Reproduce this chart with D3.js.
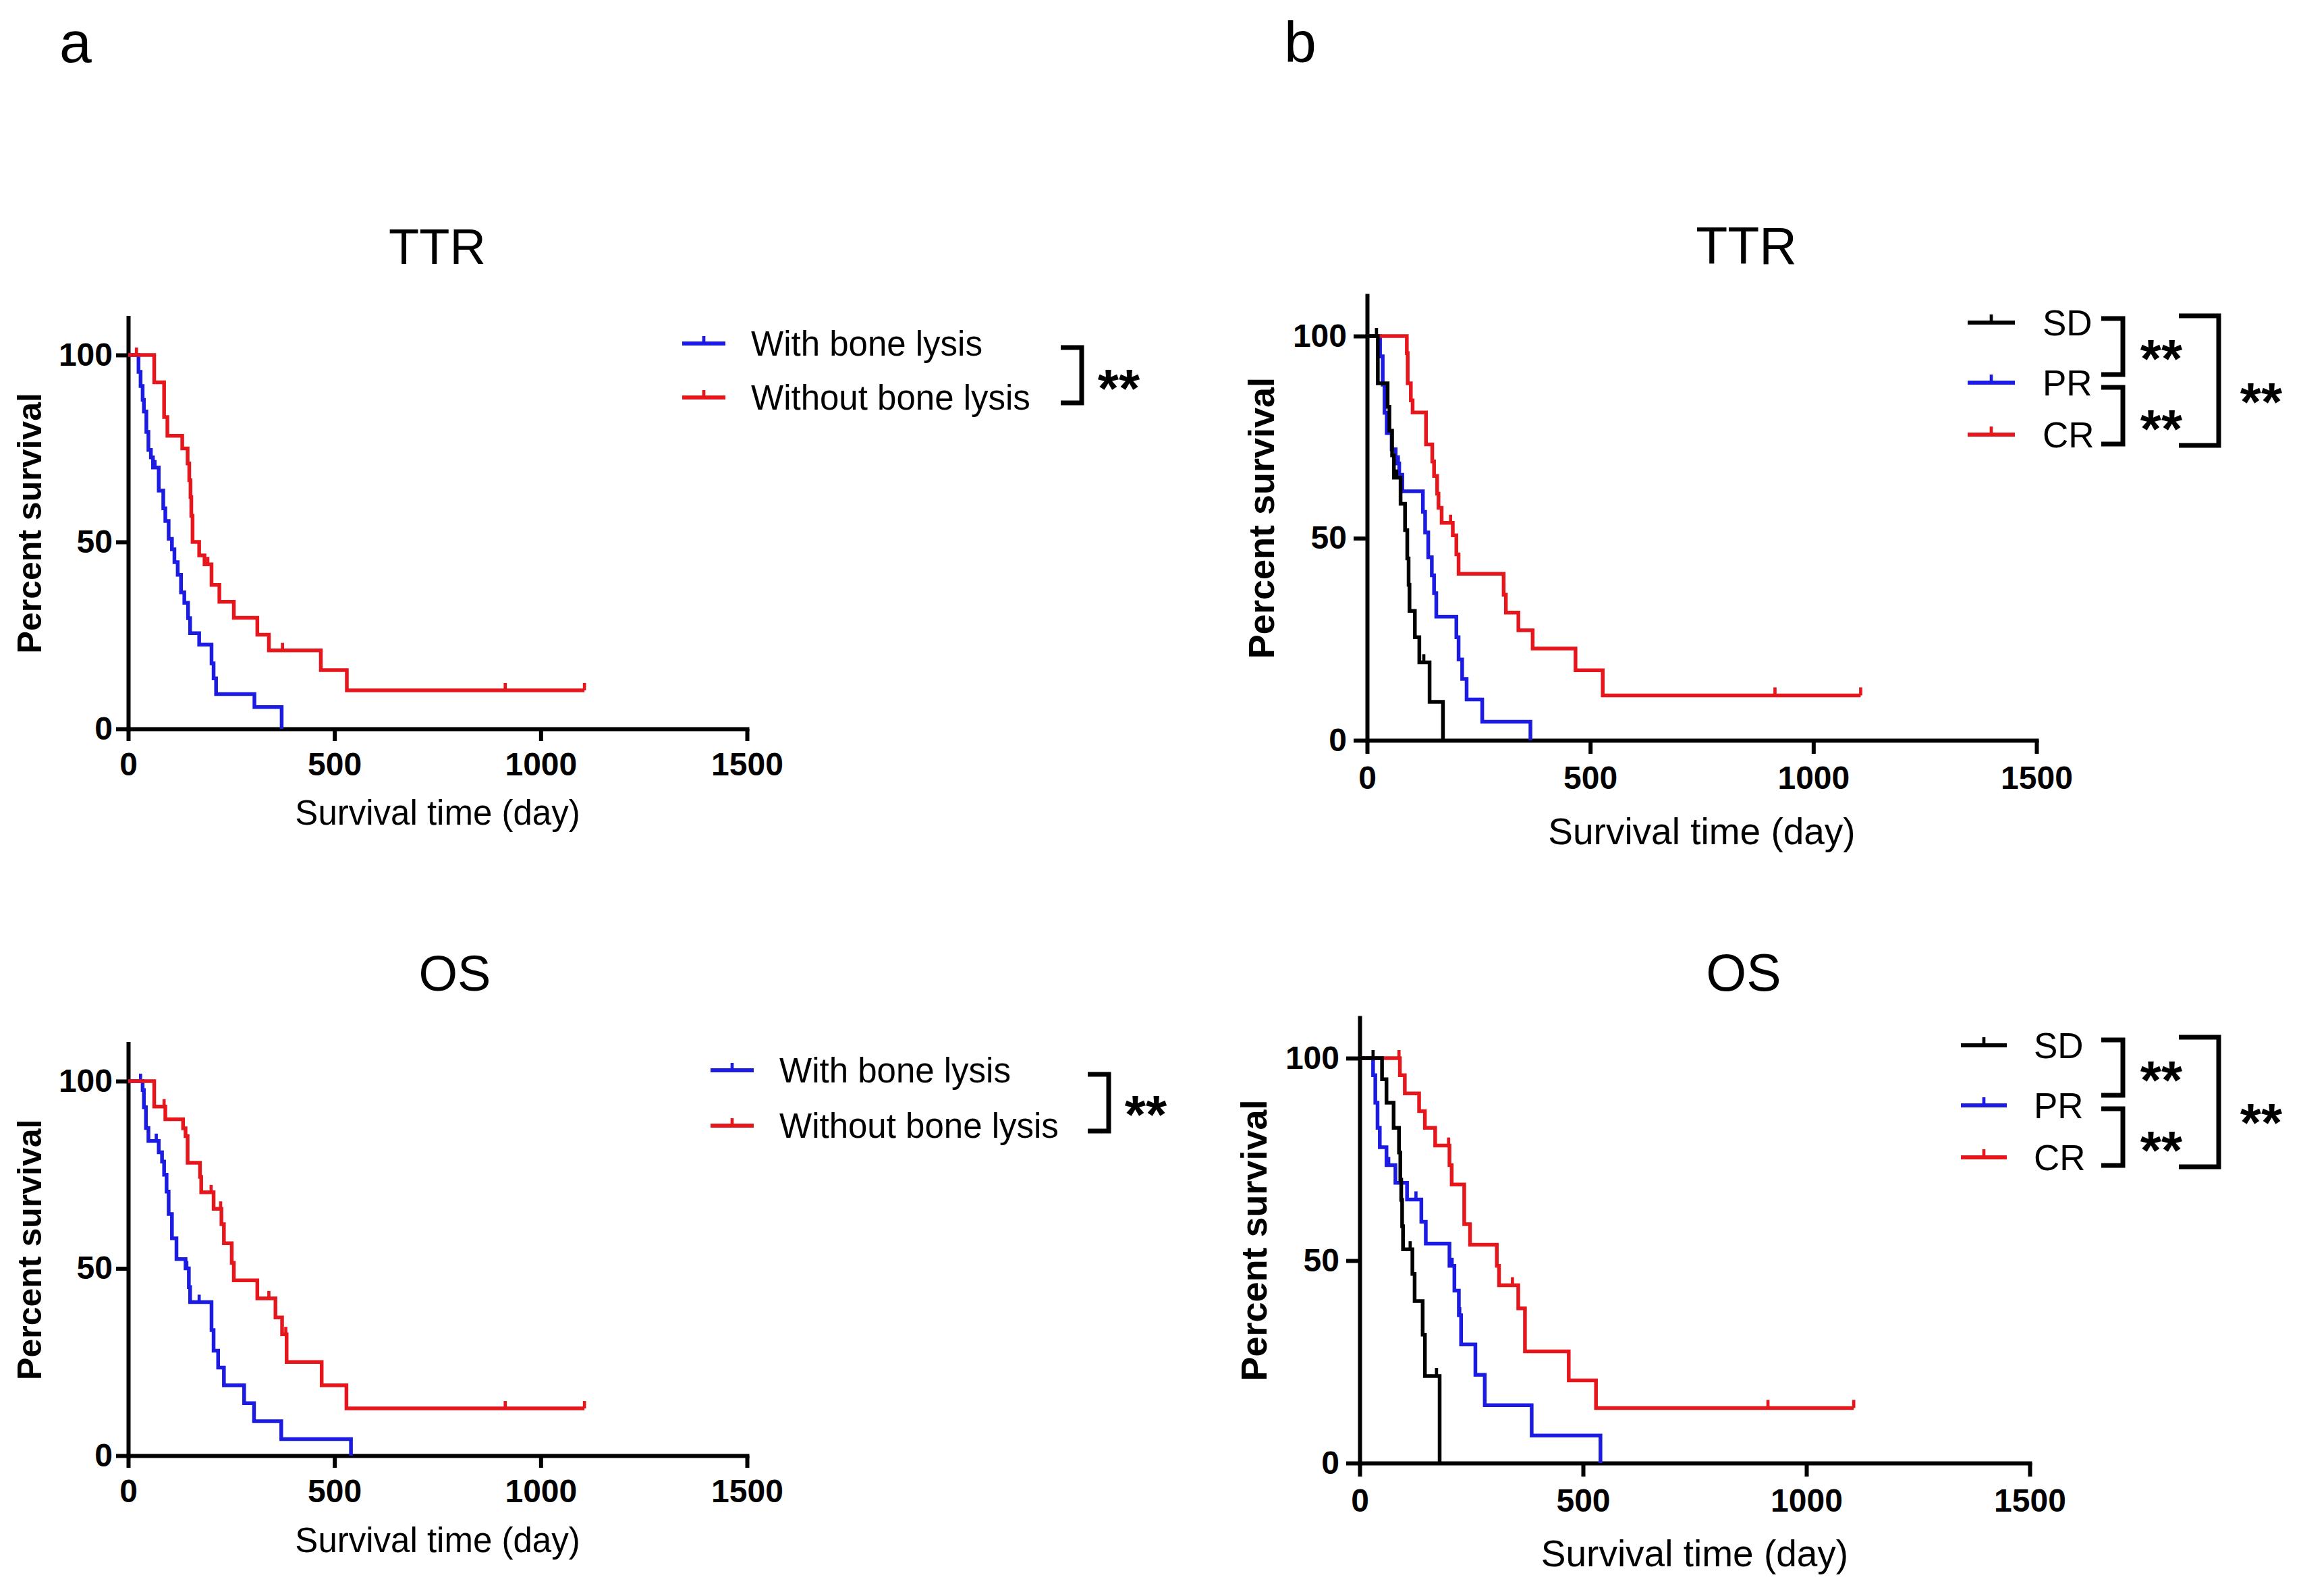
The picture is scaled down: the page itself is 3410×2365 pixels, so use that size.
<!DOCTYPE html>
<html><head><meta charset="utf-8">
<script src="https://cdn.jsdelivr.net/npm/d3@7"></script>
<style>body{margin:0;background:#fff}</style></head>
<body>
<script>
// ---------- DATA ----------
const xTicks = [0, 500, 1000, 1500];
const yTicks = [0, 50, 100];
const titles = ["TTR", "OS", "TTR", "OS"];
const panelLetters = ["a", "b"];
const namesA = ["With bone lysis", "Without bone lysis"];
const namesB = ["SD", "PR", "CR"];
const xLabel = "Survival time (day)";
const yLabel = "Percent survival";
const sigLabel = "**";

// Panel a, TTR: [day, percent survival]
const aTTR_with = [[0,100],[25,95.5],[30,91.7],[35,88],[38,84.9],[44,79.4],[49,74.6],[55,72.6],[60,69.9],[74,63.7],[85,59],[90,55.6],[98,50.8],[106,48],[112,44.6],[120,41.2],[128,36.5],[136,33.7],[145,29.6],[150,25.6],[172,22.5],[202,17.5],[207,13.5],[213,9.3],[306,5.8],[372,0]];
const aTTR_withCens = [[65,69.9]];
const aTTR_without = [[0,100],[63,92.7],[87,83.4],[95,78.4],[131,75],[144,71],[148,66.5],[151,62],[153,57],[156,50],[172,46.4],[185,44],[202,38.5],[221,34],[256,29.7],[313,25.2],[341,21],[467,15.7],[530,10.3],[1106,10.3]];
const aTTR_withoutCens = [[20,100],[193,44],[374,21],[914,10.3],[1106,10.3]];

// Panel a, OS
const aOS_with = [[0,100],[35,97.6],[38,93],[43,87.5],[49,84],[74,81],[82,78.5],[87,75],[93,70.5],[98,64.5],[106,58],[117,52.5],[139,50],[147,45],[150,41],[202,33.5],[207,28],[218,23.5],[232,18.8],[281,14],[305,9.2],[371,4.4],[540,0]];
const aOS_withCens = [[30,100],[68,84],[142,50],[172,41]];
const aOS_without = [[0,100],[63,93.2],[90,89.8],[133,87.4],[139,85.3],[144,78.2],[174,74.4],[177,70.3],[207,65.9],[226,61.8],[232,56.7],[251,51.5],[256,46.8],[313,42],[357,36.9],[373,32.4],[384,25],[469,18.8],[529,12.6],[1106,12.6]];
const aOS_withoutCens = [[87,93.2],[201,70.3],[224,65.9],[341,42],[382,32.4],[914,12.6],[1106,12.6]];

// Panel b, TTR
const bTTR_SD = [[0,100],[24,88.3],[46,82.5],[50,76.6],[56,70.5],[60,65],[75,58.5],[85,52],[90,45],[93,38.5],[95,32],[107,25.5],[117,19.3],[140,9.5],[170,0]];
const bTTR_SDCens = [[21,100],[66,65],[127,19.3]];
const bTTR_PR = [[0,100],[29,95],[35,88],[39,81],[44,76],[55,72],[64,68.5],[72,65.7],[79,61.6],[125,56.5],[130,51.4],[137,45.3],[145,40.8],[150,36.4],[155,30.6],[200,25.5],[205,20],[213,15.2],[223,10.1],[258,4.6],[366,0]];
const bTTR_PRCens = [[70,68.5]];
const bTTR_CR = [[0,100],[89,95.8],[91,88.3],[98,84.1],[102,81.1],[132,73.2],[146,69],[150,65.4],[157,61],[160,57.5],[167,53.8],[192,50.7],[200,46],[205,41.2],[306,36],[311,31.6],[339,27.2],[371,22.7],[467,17.3],[528,11.1],[1106,11.1]];
const bTTR_CRCens = [[187,53.8],[914,11.1],[1106,11.1]];

// Panel b, OS
const bOS_SD = [[0,100],[50,94.8],[60,89],[76,82.8],[88,76.7],[91,70],[93,65],[95,58.5],[97,52.8],[118,46.7],[123,40],[141,31.7],[146,21.5],[179,0]];
const bOS_SDCens = [[30,100],[113,52.8],[172,21.5]];
const bOS_PR = [[0,100],[30,95.8],[35,89],[40,82.8],[45,78],[60,73.6],[80,69.2],[106,65.1],[138,59.6],[148,54.2],[201,48.7],[212,42.6],[222,36.5],[227,29.3],[259,21.8],[280,14.3],[385,6.8],[539,0]];
const bOS_PRCens = [[65,73.6],[126,65.1],[207,48.7],[224,36.5]];
const bOS_CR = [[0,100],[90,95.8],[101,91.3],[133,86.9],[146,82.8],[169,78.4],[201,73.6],[206,68.8],[234,59],[247,53.9],[307,48.7],[312,43.9],[355,38.2],[370,27.6],[468,20.4],[529,13.6],[1106,13.6]];
const bOS_CRCens = [[88,100],[199,78.4],[342,43.9],[914,13.6],[1106,13.6]];

// ---------- DRAWING ----------
const W = 3410, H = 2365;
const FONT = "'Liberation Sans', Arial, Helvetica, sans-serif";
const BLUE = "#1b1be2", RED = "#e5161c", BLACK = "#000000";

const svg = d3.select("body").append("svg")
  .attr("width", W).attr("height", H).attr("viewBox", `0 0 ${W} ${H}`);
svg.append("rect").attr("width", W).attr("height", H).attr("fill", "#fff");

function panel(c, series) {
  const x = d3.scaleLinear([0, 1500], [c.x0, c.x1]);
  const span = c.y0 - c.y100;
  const y = d3.scaleLinear([0, 110], [c.y0, c.y0 - 1.1 * span]);
  const g = svg.append("g");

  const ax = g.append("g").attr("transform", `translate(0,${c.y0})`)
    .call(d3.axisBottom(x).tickValues(xTicks).tickFormat(d3.format("d"))
      .tickSize(c.tick).tickSizeOuter(0).tickPadding(c.xpad));
  const ay = g.append("g").attr("transform", `translate(${c.x0},0)`)
    .call(d3.axisLeft(y).tickValues(yTicks).tickFormat(d3.format("d"))
      .tickSize(c.tick).tickSizeOuter(0).tickPadding(c.ypad));
  [ax, ay].forEach(a => {
    a.select(".domain").attr("stroke", "#000").attr("stroke-width", c.axw).attr("stroke-linecap", "square");
    a.selectAll(".tick line").attr("stroke", "#000").attr("stroke-width", c.axw);
    a.selectAll("text").attr("font-family", FONT).attr("font-weight", "bold")
      .attr("font-size", c.tf).attr("fill", "#000");
  });

  const line = d3.line().x(d => x(d[0])).y(d => y(d[1])).curve(d3.curveStepAfter);
  series.forEach(s => {
    g.append("path").datum(s.data).attr("d", line).attr("fill", "none")
      .attr("stroke", s.color).attr("stroke-width", c.lw).attr("stroke-linejoin", "miter");
    g.append("g").selectAll("line").data(s.cens).join("line")
      .attr("x1", d => x(d[0])).attr("x2", d => x(d[0]))
      .attr("y1", d => y(d[1])).attr("y2", d => y(d[1]) - c.ct)
      .attr("stroke", s.color).attr("stroke-width", c.lw * 0.85);
  });

  // title
  g.append("text").attr("x", c.titleX).attr("y", c.titleY).attr("text-anchor", "middle")
    .attr("font-family", FONT).attr("font-size", c.titleF).text(c.title);
  // axis labels
  g.append("text").attr("x", (c.x0 + c.x1) / 2).attr("y", c.xlabY).attr("text-anchor", "middle")
    .attr("font-family", FONT).attr("font-size", c.xlabF).text(xLabel);
  const ymid = (y(0) + y(110)) / 2;
  g.append("text").attr("transform", `translate(${c.ylabX},${ymid}) rotate(-90)`)
    .attr("text-anchor", "middle").attr("font-family", FONT).attr("font-weight", "bold")
    .attr("font-size", c.ylabF).text(yLabel);

  // legend (in legend order)
  series.forEach(s => {
    const ly = c.ly[s.order];
    g.append("line").attr("x1", c.lx1).attr("x2", c.lx2).attr("y1", ly).attr("y2", ly)
      .attr("stroke", s.color).attr("stroke-width", c.lw * 1.1);
    const mx = (c.lx1 + c.lx2) / 2;
    g.append("line").attr("x1", mx).attr("x2", mx).attr("y1", ly).attr("y2", ly - c.ct)
      .attr("stroke", s.color).attr("stroke-width", c.lw * 0.85);
    g.append("text").attr("x", c.tx).attr("y", ly + c.lf * 0.36).attr("font-family", FONT)
      .attr("font-size", c.lf).text(s.name);
  });

  // significance brackets
  c.brackets.forEach(b => {
    g.append("path").attr("d", `M${b.x1},${b.yt}H${b.x2}V${b.yb}H${b.x1}`)
      .attr("fill", "none").attr("stroke", "#000").attr("stroke-width", 7);
    g.append("text").attr("x", b.sx).attr("y", b.sy + c.sf * 0.58).attr("text-anchor", "middle")
      .attr("font-family", FONT).attr("font-weight", "bold").attr("font-size", c.sf).text(sigLabel);
  });
}

const baseA = {x0:190, x1:1107, tick:18, xpad:17, ypad:5, tf:48, axw:6, lw:5.5, ct:11,
  titleF:74, xlabF:51, ylabF:50, ylabX:61, lf:51, sf:80};
const baseB = {tick:20, xpad:18, ypad:10, tf:48, axw:6, lw:5.5, ct:12,
  titleF:77, xlabF:55, ylabF:54, lf:53, sf:80};

// panel letters
svg.append("text").attr("x", 88).attr("y", 92).attr("font-family", FONT).attr("font-size", 86).text(panelLetters[0]);
svg.append("text").attr("x", 1903).attr("y", 92).attr("font-family", FONT).attr("font-size", 86).text(panelLetters[1]);

panel(Object.assign({}, baseA, {
  y0:1080, y100:526, title:titles[0], titleX:648, titleY:391, xlabY:1222,
  lx1:1011, lx2:1075, ly:[509,589], tx:1113,
  brackets:[{x1:1572,x2:1603,yt:515,yb:597,sx:1658,sy:557}]
}), [
  {data:aTTR_with, cens:aTTR_withCens, color:BLUE, name:namesA[0], order:0},
  {data:aTTR_without, cens:aTTR_withoutCens, color:RED, name:namesA[1], order:1}
]);

panel(Object.assign({}, baseA, {
  y0:2157, y100:1602, title:titles[1], titleX:674, titleY:1468, xlabY:2300,
  lx1:1053, lx2:1117, ly:[1586,1668], tx:1155,
  brackets:[{x1:1612,x2:1643,yt:1592,yb:1676,sx:1698,sy:1633}]
}), [
  {data:aOS_with, cens:aOS_withCens, color:BLUE, name:namesA[0], order:0},
  {data:aOS_without, cens:aOS_withoutCens, color:RED, name:namesA[1], order:1}
]);

panel(Object.assign({}, baseB, {
  x0:2026, x1:3018, y0:1097, y100:498, title:titles[2], titleX:2588, titleY:391,
  xlabY:1251, ylabX:1888,
  lx1:2916, lx2:2986, ly:[478,567,644], tx:3027,
  brackets:[{x1:3114,x2:3146,yt:472,yb:555,sx:3203,sy:513},
            {x1:3114,x2:3146,yt:574,yb:658,sx:3203,sy:617},
            {x1:3229,x2:3288,yt:468,yb:660,sx:3351,sy:577}]
}), [
  {data:bTTR_PR, cens:bTTR_PRCens, color:BLUE, name:namesB[1], order:1},
  {data:bTTR_CR, cens:bTTR_CRCens, color:RED, name:namesB[2], order:2},
  {data:bTTR_SD, cens:bTTR_SDCens, color:BLACK, name:namesB[0], order:0}
]);

panel(Object.assign({}, baseB, {
  x0:2015, x1:3008, y0:2168, y100:1568, title:titles[3], titleX:2584, titleY:1468,
  xlabY:2321, ylabX:1877,
  lx1:2906, lx2:2974, ly:[1549,1638,1715], tx:3014,
  brackets:[{x1:3114,x2:3146,yt:1541,yb:1623,sx:3203,sy:1582},
            {x1:3114,x2:3146,yt:1643,yb:1727,sx:3203,sy:1686},
            {x1:3229,x2:3288,yt:1537,yb:1729,sx:3351,sy:1645}]
}), [
  {data:bOS_PR, cens:bOS_PRCens, color:BLUE, name:namesB[1], order:1},
  {data:bOS_CR, cens:bOS_CRCens, color:RED, name:namesB[2], order:2},
  {data:bOS_SD, cens:bOS_SDCens, color:BLACK, name:namesB[0], order:0}
]);
</script>
</body></html>
